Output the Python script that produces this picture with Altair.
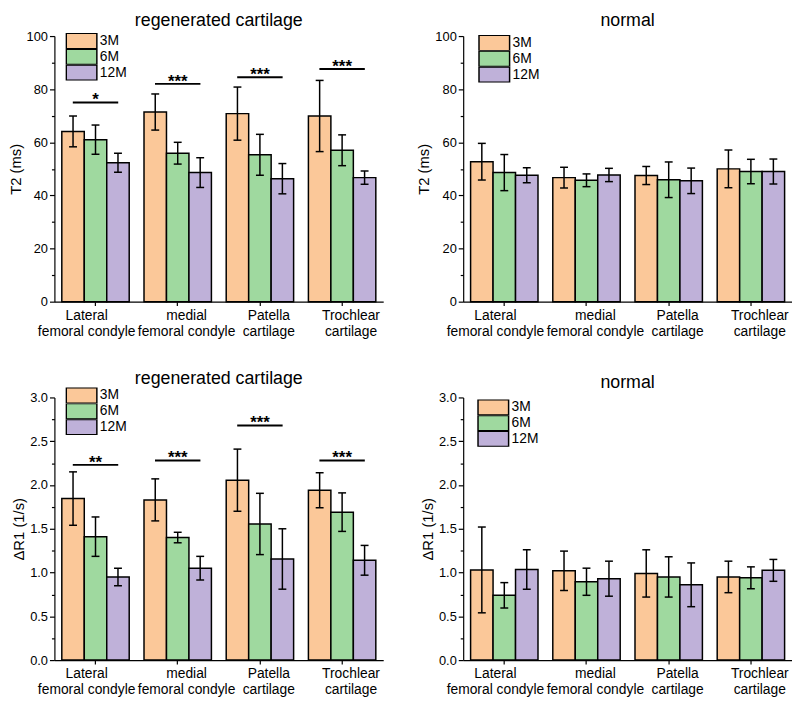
import altair as alt
import pandas as pd

FONT = "Liberation Sans"

categories = ["Lateral femoral condyle", "medial femoral condyle", "Patella cartilage", "Trochlear cartilage"]
series = ["3M", "6M", "12M"]
colors = ["#FBC899", "#9FD99F", "#BFB1D9"]

# T2 (ms), regenerated cartilage
t2_regen_3m = [64.1, 71.4, 70.8, 69.9]
t2_regen_6m = [61.0, 55.9, 55.3, 57.0]
t2_regen_12m = [52.3, 48.6, 46.3, 46.7]
t2_regen_3m_err = [5.8, 6.8, 10.0, 13.4]
t2_regen_6m_err = [5.5, 4.1, 7.7, 5.8]
t2_regen_12m_err = [3.6, 5.6, 5.7, 2.5]
t2_regen_sig_y = [75.0, 82.0, 84.5, 87.6]
t2_regen_sig = ["*", "***", "***", "***"]

# T2 (ms), normal
t2_norm_3m = [52.7, 46.7, 47.5, 50.0]
t2_norm_6m = [48.6, 45.7, 45.9, 49.0]
t2_norm_12m = [47.6, 47.7, 45.5, 49.0]
t2_norm_3m_err = [6.9, 3.9, 3.4, 7.1]
t2_norm_6m_err = [6.8, 2.4, 6.7, 4.6]
t2_norm_12m_err = [2.8, 2.5, 4.8, 4.7]

# dR1 (1/s), regenerated cartilage
r1_regen_3m = [1.845, 1.83, 2.055, 1.94]
r1_regen_6m = [1.41, 1.40, 1.555, 1.69]
r1_regen_12m = [0.95, 1.05, 1.155, 1.14]
r1_regen_3m_err = [0.305, 0.24, 0.355, 0.20]
r1_regen_6m_err = [0.225, 0.06, 0.35, 0.22]
r1_regen_12m_err = [0.10, 0.135, 0.345, 0.17]
r1_regen_sig_y = [2.23, 2.28, 2.68, 2.28]
r1_regen_sig = ["**", "***", "***", "***"]

# dR1 (1/s), normal
r1_norm_3m = [1.03, 1.02, 0.99, 0.95]
r1_norm_6m = [0.74, 0.895, 0.95, 0.94]
r1_norm_12m = [1.035, 0.93, 0.86, 1.025]
r1_norm_3m_err = [0.49, 0.225, 0.27, 0.18]
r1_norm_6m_err = [0.145, 0.155, 0.23, 0.125]
r1_norm_12m_err = [0.225, 0.20, 0.25, 0.125]

t2_ticks = list(range(0, 101, 10))
r1_ticks = [i * 0.25 for i in range(13)]


def build_df(m3, m6, m12, e3, e6, e12):
    rows = []
    for s, ms, es in zip(series, [m3, m6, m12], [e3, e6, e12]):
        for c, m, e in zip(categories, ms, es):
            rows.append({"cat": c, "series": s, "mean": m, "lo": m - e, "hi": m + e})
    return pd.DataFrame(rows)


def panel(df, title, ytitle, ymax, ticks, major_test, label_fmt, sig_y=None, sig_txt=None,
          legend_xy=(15, -3), height=269):
    x_axis = alt.Axis(
        title=None,
        labelExpr="[substring(datum.label, 0, indexof(datum.label, ' ')), substring(datum.label, indexof(datum.label, ' ') + 1)]",
        labelFontSize=14, labelLineHeight=16, labelPadding=3, labelOverlap=False,
        labelBound=False, labelAngle=0, tickSize=4,
        labelOffset={"condition": {"test": "datum.value == 'Lateral femoral condyle'", "value": -9}, "value": 9},
    )
    xenc = alt.X("cat:N", sort=categories,
                 scale=alt.Scale(paddingInner=0.18, paddingOuter=0.09), axis=x_axis)
    xoff = alt.XOffset("series:N", sort=series, scale=alt.Scale(paddingInner=0, paddingOuter=0))
    y_axis = alt.Axis(
        title=ytitle, values=ticks,
        labelExpr=f"{major_test} ? format(datum.value, '{label_fmt}') : ''",
        tickSize={"condition": {"test": major_test, "value": 5}, "value": 3},
        labelFontSize=13, labelPadding=2, titlePadding=3,
    )
    yscale = alt.Scale(domain=[0, ymax], nice=False, zero=True)
    color = alt.Color(
        "series:N", sort=series, scale=alt.Scale(domain=series, range=colors),
        legend=alt.Legend(
            title=None, orient="none", legendX=legend_xy[0], legendY=legend_xy[1],
            symbolType="M-2,-1H2V1H-2Z", symbolSize=240, symbolStrokeColor="black",
            symbolStrokeWidth=1.5, symbolOpacity=1, symbolOffset=8, labelFontSize=14, labelOffset=10,
            rowPadding=0, padding=0, clipHeight=16, labelFont=FONT, labelColor="black",
        ),
    )
    base = alt.Chart(df)
    bars = base.mark_bar(stroke="black", strokeWidth=1.5, opacity=1).encode(
        x=xenc, xOffset=xoff, y=alt.Y("mean:Q", scale=yscale, axis=y_axis), color=color
    )
    rules = base.mark_rule(color="black", strokeWidth=1.5).encode(
        x=xenc, xOffset=xoff, y=alt.Y("lo:Q", scale=yscale, axis=y_axis), y2="hi:Q"
    )
    cap_hi = base.mark_tick(color="black", thickness=1.5, size=8, orient="horizontal", opacity=1).encode(
        x=xenc, xOffset=xoff, y=alt.Y("hi:Q", scale=yscale, axis=y_axis)
    )
    cap_lo = base.mark_tick(color="black", thickness=1.5, size=8, orient="horizontal", opacity=1).encode(
        x=xenc, xOffset=xoff, y=alt.Y("lo:Q", scale=yscale, axis=y_axis)
    )
    layers = [bars, rules, cap_hi, cap_lo]
    if sig_y is not None:
        sdf = pd.DataFrame({"cat": categories, "y": sig_y, "txt": sig_txt})
        sbase = alt.Chart(sdf)
        layers.append(sbase.mark_tick(color="black", thickness=2, size=46, orient="horizontal", opacity=1).encode(
            x=xenc, y=alt.Y("y:Q", scale=yscale, axis=y_axis)))
        layers.append(sbase.mark_text(fontSize=17, fontWeight="bold", baseline="alphabetic", dy=3, font=FONT,
                                      color="black").encode(
            x=xenc, y=alt.Y("y:Q", scale=yscale, axis=y_axis), text="txt:N"))
    return alt.layer(*layers).properties(
        width=333, height=height,
        title=alt.TitleParams(title, fontSize=18, fontWeight="normal", font=FONT, anchor="middle",
                              offset=0, frame="group", color="black"),
    )


t2_major = "datum.value % 20 == 0"
r1_major = "abs(datum.value * 2 - round(datum.value * 2)) < 0.001"

p1 = panel(build_df(t2_regen_3m, t2_regen_6m, t2_regen_12m, t2_regen_3m_err, t2_regen_6m_err, t2_regen_12m_err),
           "regenerated cartilage", "T2 (ms)", 100, t2_ticks, t2_major, "d",
           t2_regen_sig_y, t2_regen_sig, legend_xy=(11, -3), height=269)
p2 = panel(build_df(t2_norm_3m, t2_norm_6m, t2_norm_12m, t2_norm_3m_err, t2_norm_6m_err, t2_norm_12m_err),
           "normal", "T2 (ms)", 100, t2_ticks, t2_major, "d",
           legend_xy=(15, -1), height=269)
p3 = panel(build_df(r1_regen_3m, r1_regen_6m, r1_regen_12m, r1_regen_3m_err, r1_regen_6m_err, r1_regen_12m_err),
           "regenerated cartilage", "ΔR1 (1/s)", 3.0, r1_ticks, r1_major, ".1f",
           r1_regen_sig_y, r1_regen_sig, legend_xy=(11, -10), height=266)
p4 = panel(build_df(r1_norm_3m, r1_norm_6m, r1_norm_12m, r1_norm_3m_err, r1_norm_6m_err, r1_norm_12m_err),
           "normal", "ΔR1 (1/s)", 3.0, r1_ticks, r1_major, ".1f",
           legend_xy=(14, 2), height=266)

chart = alt.concat(p1, p2, p3, p4, columns=2, spacing={"row": 32, "column": 34}).resolve_scale(
    color="independent"
).resolve_legend(color="independent").properties(
    padding={"left": 0, "top": 0, "right": 0, "bottom": 0}
).configure(background="white").configure_view(stroke=None).configure_axis(
    domainColor="black", domainWidth=1.2, tickColor="black", tickWidth=1.2, labelColor="black",
    titleColor="black", labelFont=FONT, titleFont=FONT, titleFontSize=15, titleFontWeight="normal",
    grid=False,
)

chart.save("out.html", embed_options={"renderer": "svg", "actions": False})
